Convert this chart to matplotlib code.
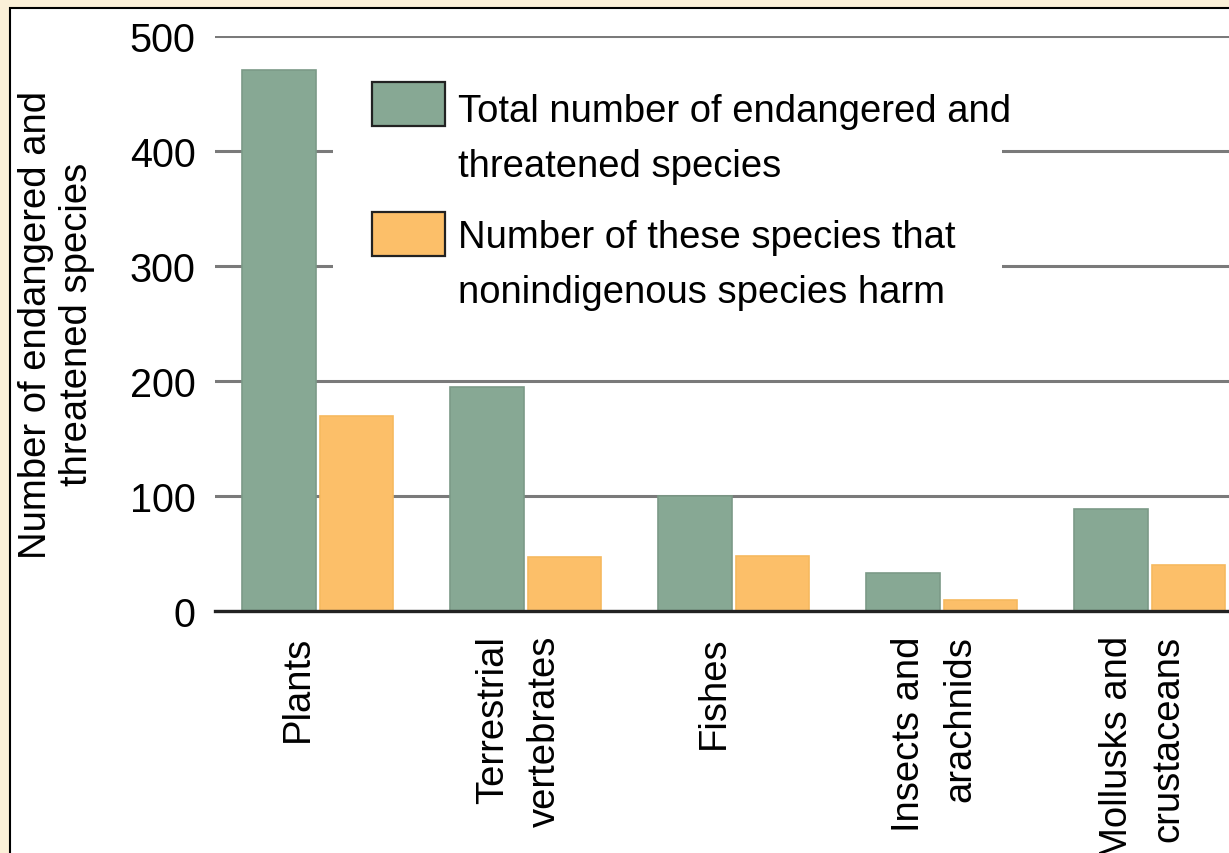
import numpy as np
import matplotlib.pyplot as plt
from matplotlib.patches import Rectangle

categories = ["Plants", "Terrestrial\nvertebrates", "Fishes", "Insects and\narachnids", "Mollusks and\ncrustaceans"]
total_species = [470, 195, 100, 33, 89]
harmed_species = [170, 47, 48, 10, 40]
series_labels = ["Total number of endangered and\nthreatened species",
                 "Number of these species that\nnonindigenous species harm"]
y_ticks = [0, 100, 200, 300, 400, 500]

GREEN = "#87a894"
ORANGE = "#fcbf69"
CREAM = "#fbf0d8"
FS = 27.5

plt.rcParams['font.family'] = ['Liberation Sans', 'DejaVu Sans']

fig = plt.figure(figsize=(12.29, 8.54), dpi=100, facecolor=CREAM)
# white panel with a black frame on top/left
fig.patches.append(Rectangle((10 / 1229, -0.1), 1.2, 1 - 9 / 854 + 0.1, transform=fig.transFigure,
                             facecolor="white", edgecolor="black", lw=1.5, zorder=-10))

ax = fig.add_axes([215 / 1229, 242 / 854, 1014 / 1229, 575 / 854])
ax.set_facecolor("none")

x = np.arange(len(categories))
w = 0.355
ax.bar(x - w / 2 - 0.008, total_species, w, color=GREEN, edgecolor="#7b9a87", lw=1.2, zorder=2)
ax.bar(x + w / 2 + 0.008, harmed_species, w, color=ORANGE, edgecolor="#f6b95f", lw=1.2, zorder=2)

ax.set_xlim(-0.495, 4.38)
ax.set_ylim(0, 500)
ax.set_yticks(y_ticks)
ax.set_yticklabels([str(v) for v in y_ticks], fontsize=28.5)
ax.tick_params(axis="y", length=0, pad=14)
ax.set_axisbelow(True)
ax.yaxis.grid(True, color="#7a7a7a", lw=2.2)

for side in ["top", "right", "left"]:
    ax.spines[side].set_visible(False)
ax.spines["bottom"].set_linewidth(2.4)
ax.spines["bottom"].set_color("#222222")
ax.spines["bottom"].set_zorder(3)

# category names, rotated and hanging under the baseline
ax.set_xticks([])
for xi, name in zip(x, categories):
    dx = -7 if "\n" in name else -20
    ax.annotate(name, xy=(xi, 0), xycoords="data", xytext=(dx, -24), textcoords="offset pixels",
                rotation=90, ha="center", va="top", multialignment="right", fontsize=FS,
                linespacing=1.55, annotation_clip=False)

ax.set_ylabel("Number of endangered and\nthreatened species", fontsize=FS, linespacing=1.2)
ax.yaxis.set_label_coords(-0.118, 0.5)

# legend block: white backdrop hides the gridlines behind it
ax.add_patch(Rectangle((0.1164, 0.49), 0.66, 0.47, transform=ax.transAxes,
                       facecolor="white", edgecolor="none", zorder=4))
swatches = [(GREEN, 0.8435, 0.757), (ORANGE, 0.6174, 0.538)]
for (color, sy, ty), label in zip(swatches, series_labels):
    ax.add_patch(Rectangle((0.1548, sy), 0.072, 0.0765, transform=ax.transAxes,
                           facecolor=color, edgecolor="#222222", lw=1.6, zorder=5))
    ax.text(0.2396, ty, label, transform=ax.transAxes, fontsize=FS, ha="left", va="baseline",
            linespacing=1.66, zorder=5)

plt.savefig("out.png", dpi=100, facecolor=CREAM)
